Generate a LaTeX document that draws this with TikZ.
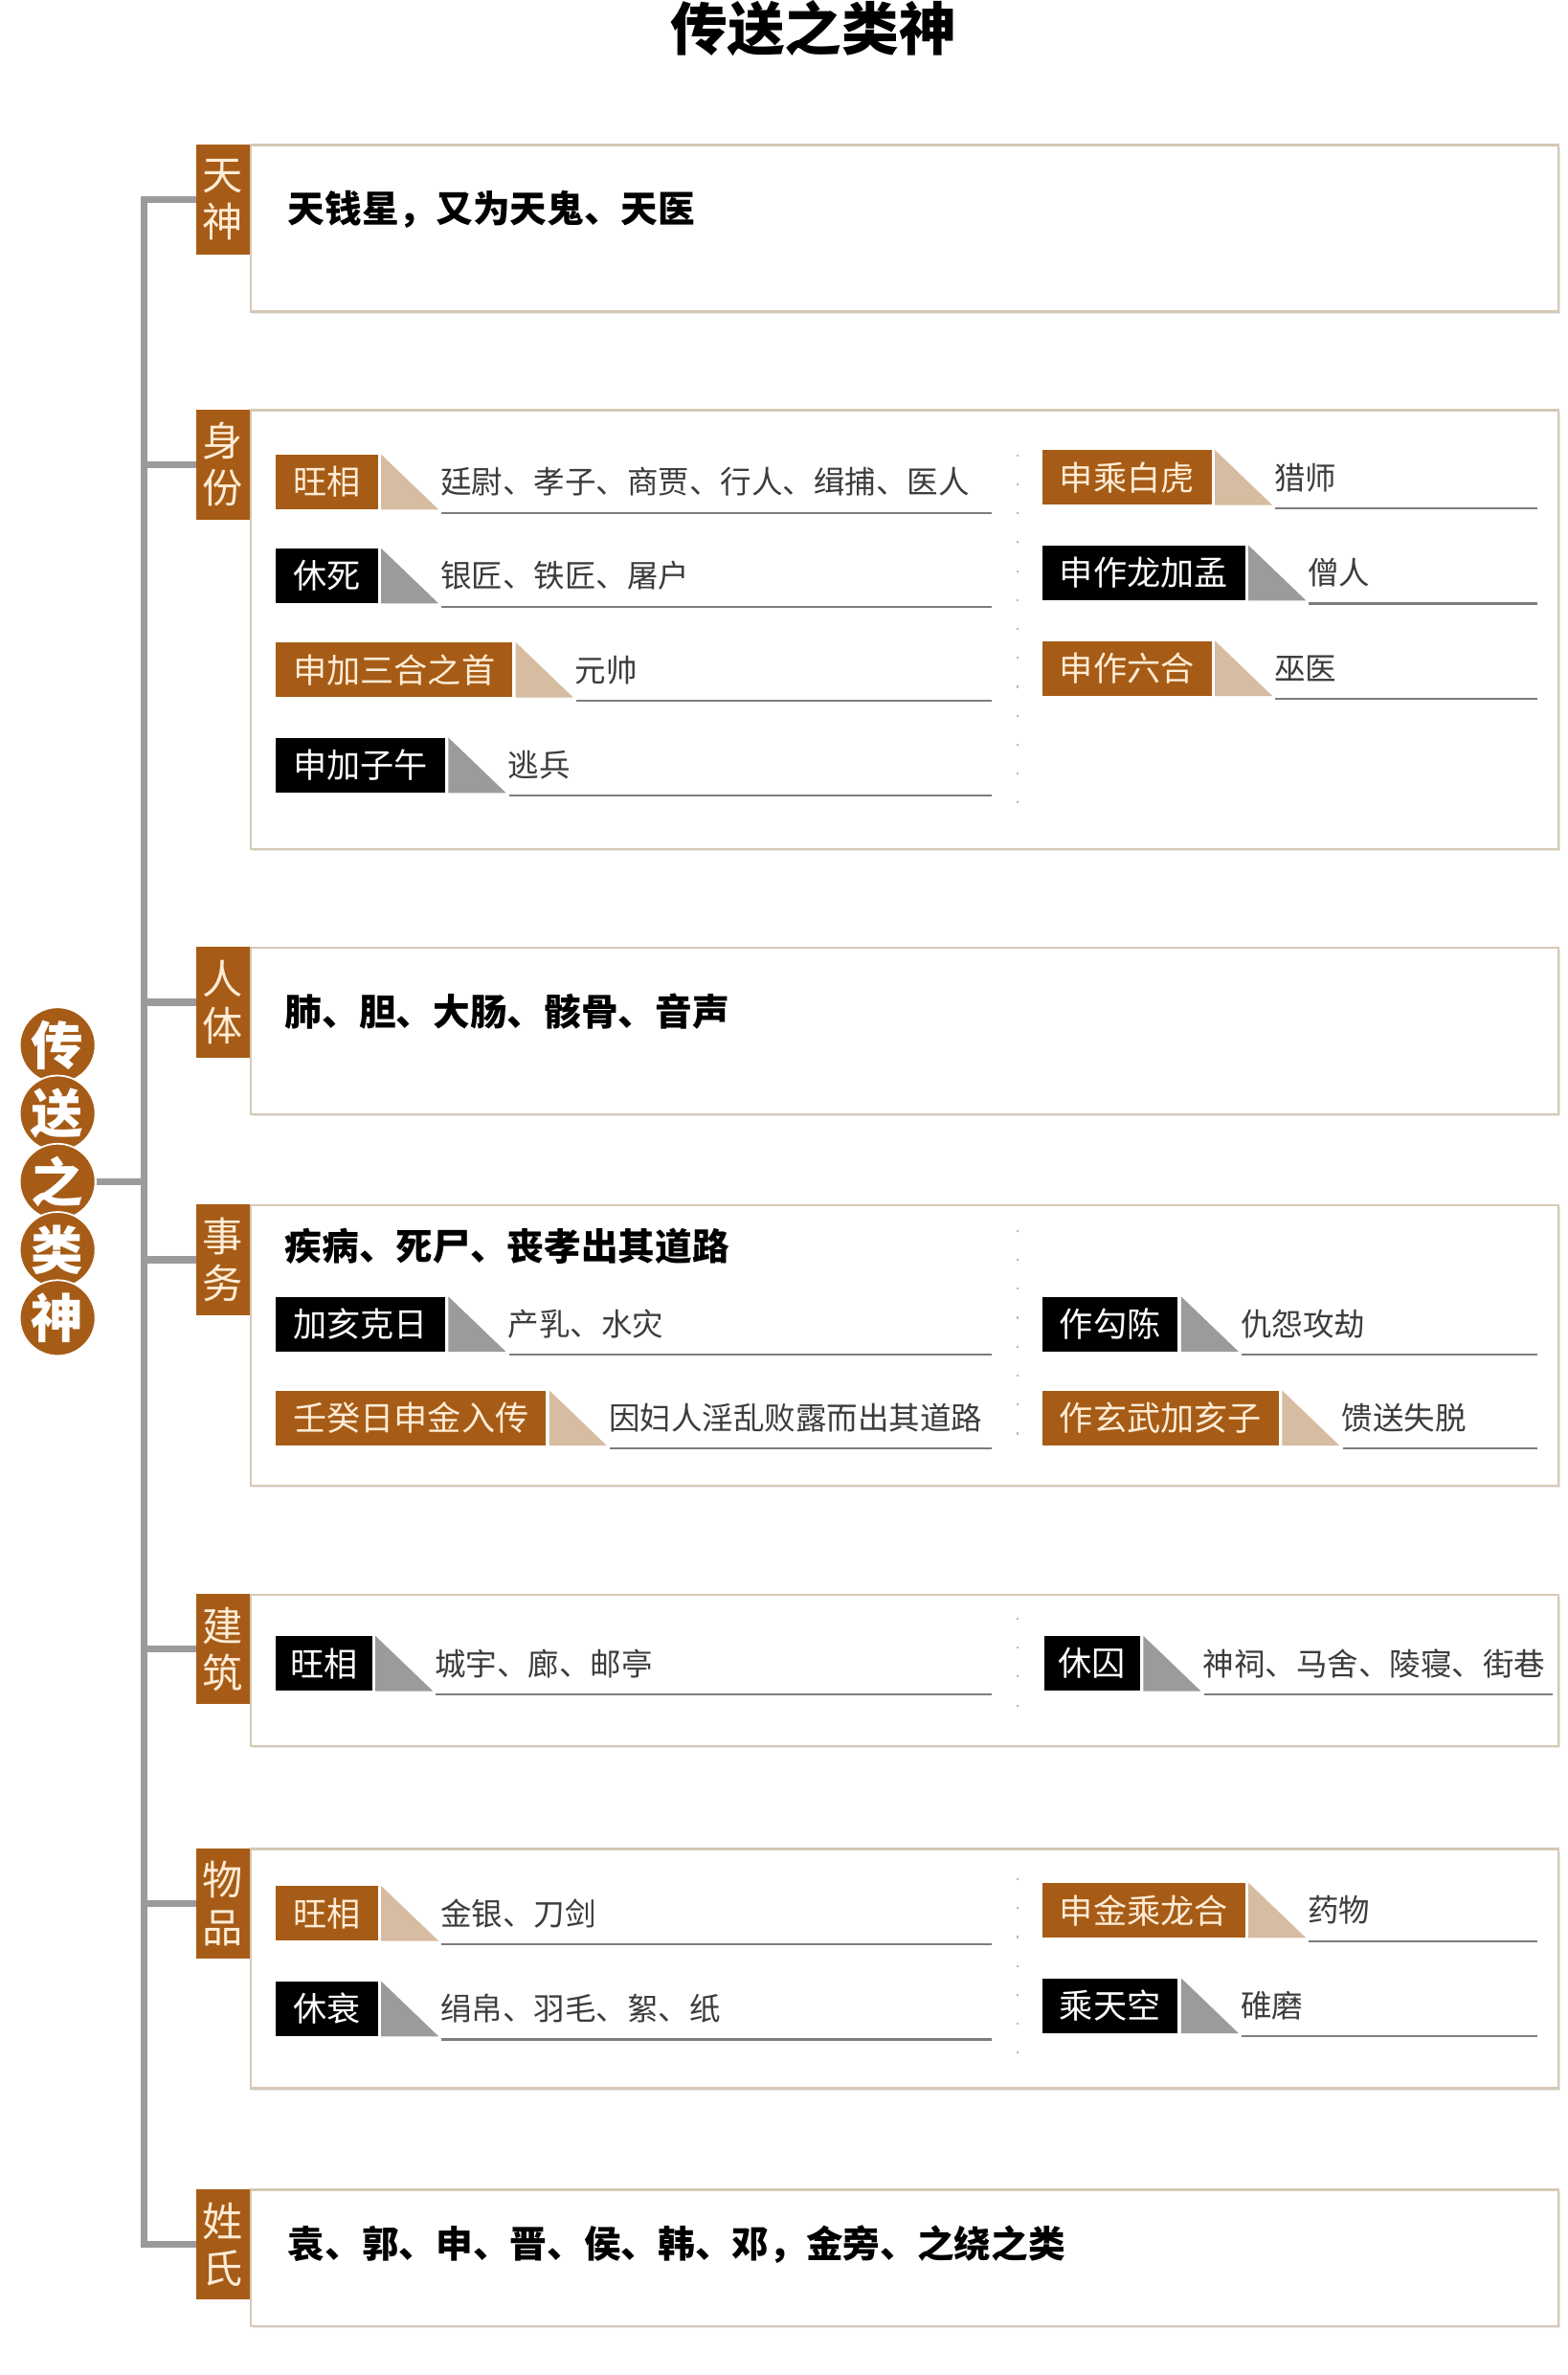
\documentclass[tikz,border=0pt]{standalone}
\usepackage{fontspec}
\setmainfont{Noto Sans CJK SC}
\usetikzlibrary{positioning, shadows}

\definecolor{zhe}{RGB}{166,92,22}
\definecolor{qian}{RGB}{255,236,214}
\definecolor{tan}{RGB}{214,188,160}
\definecolor{huise}{RGB}{155,155,155}
\definecolor{kuang}{RGB}{214,200,182}
\definecolor{xian}{RGB}{125,125,125}
\definecolor{wenzi}{RGB}{60,60,60}

\begin{document}
\begin{tikzpicture}[
  x=0.031652cm, y=-0.031652cm,
  secbox/.style={rectangle, draw=kuang, line width=1.3pt, fill=white,
                 minimum width=27.32cm, inner sep=0pt,
                 drop shadow={opacity=0.18, shadow xshift=1.2pt, shadow yshift=-1.2pt}},
  tag/.style={rectangle, fill=zhe, text=qian, inner sep=0pt,
              minimum width=1.11cm, minimum height=2.31cm,
              align=center, font=\fontsize{24}{28}\selectfont},
  root/.style={circle, fill=zhe, draw=white, line width=1pt, text=white,
               minimum size=1.58cm, inner sep=0pt,
               font=\fontsize{31}{31}\selectfont\bfseries},
  stem/.style={draw=huise, line width=4.2pt},
  maintxt/.style={inner sep=0pt, anchor=west,
                  font=\fontsize{22}{22}\selectfont\bfseries},
  lab/.style={rectangle, inner xsep=0.36cm, inner ysep=0pt, anchor=north west,
              minimum height=1.14cm, text=white,
              font=\fontsize{20}{20}\selectfont},
  zhelab/.style={lab, fill=zhe, text=qian},
  heilab/.style={lab, fill=black},
  rowtxt/.style={inner sep=0pt, text=wenzi,
                 font=\fontsize{18.5}{18.5}\selectfont},
  tritan/.style={fill=tan},
  trigray/.style={fill=huise},
  uline/.style={draw=xian, line width=1.2pt},
  fendiv/.style={draw=huise!70, line width=1.3pt, dash pattern=on 1.2pt off 16pt},
]
\useasboundingbox (0,0) rectangle (1035,1568);
\fill[white] (0,0) rectangle (1035,1568);
\coordinate (spine) at (95,0);
\coordinate (lend)  at (655,0);
\coordinate (rend)  at (1015,0);
\coordinate (rend2) at (1025,0);

% 标题
\node[font=\fontsize{34}{34}\selectfont\bfseries] (biaoti) at (537,19) {传送之类神};

% 左侧圆形标题
\node[root] (gen1) at (38,690) {传};
\node[root, below=-0.19cm of gen1] (gen2) {送};
\node[root, below=-0.19cm of gen2] (gen3) {之};
\node[root, below=-0.19cm of gen3] (gen4) {类};
\node[root, below=-0.19cm of gen4] (gen5) {神};

% 各分区外框
\node[secbox, minimum height=3.48cm, anchor=north west] (box1) at (165,95)   {};
\node[secbox, minimum height=9.18cm, anchor=north west] (box2) at (165,270)  {};
\node[secbox, minimum height=3.48cm, anchor=north west] (box3) at (165,625)  {};
\node[secbox, minimum height=5.86cm, anchor=north west] (box4) at (165,795)  {};
\node[secbox, minimum height=3.17cm, anchor=north west] (box5) at (165,1052) {};
\node[secbox, minimum height=5.00cm, anchor=north west] (box6) at (165,1220) {};
\node[secbox, minimum height=2.85cm, anchor=north west] (box7) at (165,1445) {};

% 分区标签
\node[tag, anchor=north east] (tianshen) at (box1.north west) {天\\神};
\node[tag, anchor=north east] (shenfen)  at (box2.north west) {身\\份};
\node[tag, anchor=north east] (renti)    at (box3.north west) {人\\体};
\node[tag, anchor=north east] (shiwu)    at (box4.north west) {事\\务};
\node[tag, anchor=north east] (jianzhu)  at (box5.north west) {建\\筑};
\node[tag, anchor=north east] (wupin)    at (box6.north west) {物\\品};
\node[tag, anchor=north east] (xingshi)  at (box7.north west) {姓\\氏};

% 树干与分支
\draw[stem] (tianshen.west) -| (spine |- xingshi.west) -- (xingshi.west);
\draw[stem] (spine |- shenfen.west) -- (shenfen.west);
\draw[stem] (spine |- renti.west)   -- (renti.west);
\draw[stem] (spine |- shiwu.west)   -- (shiwu.west);
\draw[stem] (spine |- jianzhu.west) -- (jianzhu.west);
\draw[stem] (spine |- wupin.west)   -- (wupin.west);
\draw[stem] (gen3.east) -- (spine |- gen3.east);

% 天神
\node[maintxt] (tianshenTxt) at (190,138) {天钱星，又为天鬼、天医};

% 身份：左列
\node[zhelab] (sf1) at (182,300) {旺相};
\fill[tritan] ([shift={(2,0)}]sf1.north east) -- ([shift={(2,0)}]sf1.south east) -- ++(38,0) -- cycle;
\node[rowtxt, right=1.3cm of sf1] (sf1t) {廷尉、孝子、商贾、行人、缉捕、医人};
\draw[uline] ([shift={(42,2)}]sf1.south east) coordinate (u) -- (u -| lend);

\node[heilab] (sf2) at (182,362) {休死};
\fill[trigray] ([shift={(2,0)}]sf2.north east) -- ([shift={(2,0)}]sf2.south east) -- ++(38,0) -- cycle;
\node[rowtxt, right=1.3cm of sf2] (sf2t) {银匠、铁匠、屠户};
\draw[uline] ([shift={(42,2)}]sf2.south east) coordinate (u) -- (u -| lend);

\node[zhelab] (sf3) at (182,424) {申加三合之首};
\fill[tritan] ([shift={(2,0)}]sf3.north east) -- ([shift={(2,0)}]sf3.south east) -- ++(38,0) -- cycle;
\node[rowtxt, right=1.3cm of sf3] (sf3t) {元帅};
\draw[uline] ([shift={(42,2)}]sf3.south east) coordinate (u) -- (u -| lend);

\node[heilab] (sf4) at (182,487) {申加子午};
\fill[trigray] ([shift={(2,0)}]sf4.north east) -- ([shift={(2,0)}]sf4.south east) -- ++(38,0) -- cycle;
\node[rowtxt, right=1.3cm of sf4] (sf4t) {逃兵};
\draw[uline] ([shift={(42,2)}]sf4.south east) coordinate (u) -- (u -| lend);

% 身份：右列
\draw[fendiv] (672,300) -- (672,530);
\node[zhelab] (sfr1) at (688,297) {申乘白虎};
\fill[tritan] ([shift={(2,0)}]sfr1.north east) -- ([shift={(2,0)}]sfr1.south east) -- ++(38,0) -- cycle;
\node[rowtxt, right=1.3cm of sfr1] (sfr1t) {猎师};
\draw[uline] ([shift={(42,2)}]sfr1.south east) coordinate (u) -- (u -| rend);

\node[heilab] (sfr2) at (688,360) {申作龙加孟};
\fill[trigray] ([shift={(2,0)}]sfr2.north east) -- ([shift={(2,0)}]sfr2.south east) -- ++(38,0) -- cycle;
\node[rowtxt, right=1.3cm of sfr2] (sfr2t) {僧人};
\draw[uline] ([shift={(42,2)}]sfr2.south east) coordinate (u) -- (u -| rend);

\node[zhelab] (sfr3) at (688,423) {申作六合};
\fill[tritan] ([shift={(2,0)}]sfr3.north east) -- ([shift={(2,0)}]sfr3.south east) -- ++(38,0) -- cycle;
\node[rowtxt, right=1.3cm of sfr3] (sfr3t) {巫医};
\draw[uline] ([shift={(42,2)}]sfr3.south east) coordinate (u) -- (u -| rend);

% 人体
\node[maintxt] (rentiTxt) at (188,668) {肺、胆、大肠、骸骨、音声};

% 事务
\node[maintxt] (shiwuTxt) at (188,823) {疾病、死尸、丧孝出其道路};
\draw[fendiv] (672,812) -- (672,962);

\node[heilab] (sw1) at (182,856) {加亥克日};
\fill[trigray] ([shift={(2,0)}]sw1.north east) -- ([shift={(2,0)}]sw1.south east) -- ++(38,0) -- cycle;
\node[rowtxt, right=1.3cm of sw1] (sw1t) {产乳、水灾};
\draw[uline] ([shift={(42,2)}]sw1.south east) coordinate (u) -- (u -| lend);

\node[zhelab] (sw2) at (182,918) {壬癸日申金入传};
\fill[tritan] ([shift={(2,0)}]sw2.north east) -- ([shift={(2,0)}]sw2.south east) -- ++(38,0) -- cycle;
\node[rowtxt, right=1.3cm of sw2] (sw2t) {因妇人淫乱败露而出其道路};
\draw[uline] ([shift={(42,2)}]sw2.south east) coordinate (u) -- (u -| lend);

\node[heilab] (swr1) at (688,856) {作勾陈};
\fill[trigray] ([shift={(2,0)}]swr1.north east) -- ([shift={(2,0)}]swr1.south east) -- ++(38,0) -- cycle;
\node[rowtxt, right=1.3cm of swr1] (swr1t) {仇怨攻劫};
\draw[uline] ([shift={(42,2)}]swr1.south east) coordinate (u) -- (u -| rend);

\node[zhelab] (swr2) at (688,918) {作玄武加亥子};
\fill[tritan] ([shift={(2,0)}]swr2.north east) -- ([shift={(2,0)}]swr2.south east) -- ++(38,0) -- cycle;
\node[rowtxt, right=1.3cm of swr2] (swr2t) {馈送失脱};
\draw[uline] ([shift={(42,2)}]swr2.south east) coordinate (u) -- (u -| rend);

% 建筑
\draw[fendiv] (672,1068) -- (672,1140);
\node[heilab, inner xsep=0.3cm] (jz1) at (182,1080) {旺相};
\fill[trigray] ([shift={(2,0)}]jz1.north east) -- ([shift={(2,0)}]jz1.south east) -- ++(38,0) -- cycle;
\node[rowtxt, right=1.3cm of jz1] (jz1t) {城宇、廊、邮亭};
\draw[uline] ([shift={(42,2)}]jz1.south east) coordinate (u) -- (u -| lend);

\node[heilab, inner xsep=0.3cm] (jzr1) at (689,1080) {休囚};
\fill[trigray] ([shift={(2,0)}]jzr1.north east) -- ([shift={(2,0)}]jzr1.south east) -- ++(38,0) -- cycle;
\node[rowtxt, right=1.3cm of jzr1] (jzr1t) {神祠、马舍、陵寝、街巷};
\draw[uline] ([shift={(42,2)}]jzr1.south east) coordinate (u) -- (u -| rend2);

% 物品
\draw[fendiv] (672,1240) -- (672,1365);
\node[zhelab] (wp1) at (182,1245) {旺相};
\fill[tritan] ([shift={(2,0)}]wp1.north east) -- ([shift={(2,0)}]wp1.south east) -- ++(38,0) -- cycle;
\node[rowtxt, right=1.3cm of wp1] (wp1t) {金银、刀剑};
\draw[uline] ([shift={(42,2)}]wp1.south east) coordinate (u) -- (u -| lend);

\node[heilab] (wp2) at (182,1308) {休衰};
\fill[trigray] ([shift={(2,0)}]wp2.north east) -- ([shift={(2,0)}]wp2.south east) -- ++(38,0) -- cycle;
\node[rowtxt, right=1.3cm of wp2] (wp2t) {绢帛、羽毛、絮、纸};
\draw[uline] ([shift={(42,2)}]wp2.south east) coordinate (u) -- (u -| lend);

\node[zhelab] (wpr1) at (688,1243) {申金乘龙合};
\fill[tritan] ([shift={(2,0)}]wpr1.north east) -- ([shift={(2,0)}]wpr1.south east) -- ++(38,0) -- cycle;
\node[rowtxt, right=1.3cm of wpr1] (wpr1t) {药物};
\draw[uline] ([shift={(42,2)}]wpr1.south east) coordinate (u) -- (u -| rend);

\node[heilab] (wpr2) at (688,1306) {乘天空};
\fill[trigray] ([shift={(2,0)}]wpr2.north east) -- ([shift={(2,0)}]wpr2.south east) -- ++(38,0) -- cycle;
\node[rowtxt, right=1.3cm of wpr2] (wpr2t) {碓磨};
\draw[uline] ([shift={(42,2)}]wpr2.south east) coordinate (u) -- (u -| rend);

% 姓氏
\node[maintxt] (xingshiTxt) at (190,1482) {袁、郭、申、晋、侯、韩、邓，金旁、之绕之类};
\end{tikzpicture}
\end{document}
